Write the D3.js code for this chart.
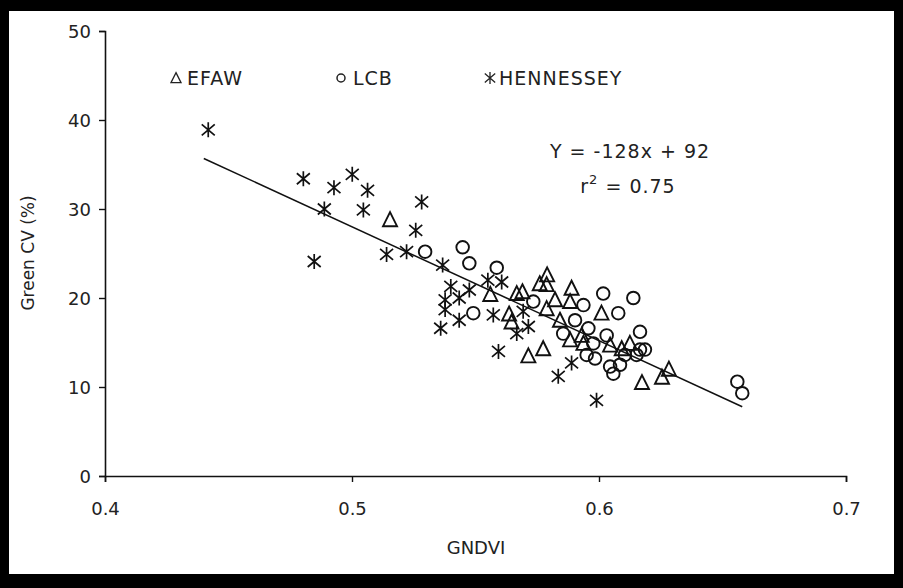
<!DOCTYPE html>
<html>
<head>
<meta charset="utf-8">
<script src="https://cdn.jsdelivr.net/npm/d3@7"></script>
<style>
  html, body { margin: 0; padding: 0; background: #000; }
  svg { display: block; }
  text { font-family: "DejaVu Sans", Verdana, sans-serif; fill: #222; }
</style>
</head>
<body>
<svg id="chart" width="903" height="588"></svg>
<script>
// Green CV (%) against GNDVI for three wheat varieties
const efawGndvi = [0.5154, 0.5667, 0.569, 0.556, 0.579, 0.576, 0.5788, 0.5889, 0.5883, 0.5822,
  0.5788, 0.601, 0.5636, 0.5646, 0.5842, 0.5883, 0.593, 0.5937, 0.6045, 0.6092,
  0.6125, 0.5774, 0.5714, 0.6174, 0.6255, 0.6283];
const efawCv = [28.8, 20.5, 20.7, 20.4, 22.6, 21.6, 21.5, 21.1, 19.6, 19.8,
  18.8, 18.3, 18.2, 17.3, 17.5, 15.3, 15.8, 14.9, 14.7, 14.3,
  14.9, 14.3, 13.5, 10.5, 11.1, 12.0];

const lcbGndvi = [0.5296, 0.5448, 0.5475, 0.5586, 0.5491, 0.5734, 0.5937, 0.6017, 0.6139, 0.6078,
  0.5903, 0.5957, 0.5855, 0.6031, 0.6166, 0.5977, 0.6166, 0.6186, 0.6152, 0.6105,
  0.5984, 0.595, 0.6045, 0.6085, 0.6058, 0.656, 0.658];
const lcbCv = [25.2, 25.7, 23.9, 23.4, 18.3, 19.6, 19.2, 20.5, 20.0, 18.3,
  17.5, 16.6, 16.0, 15.8, 16.2, 14.9, 14.2, 14.2, 13.6, 13.6,
  13.2, 13.6, 12.3, 12.5, 11.5, 10.6, 9.3];

const hennGndvi = [0.4418, 0.4803, 0.4927, 0.5001, 0.5063, 0.4888, 0.5046, 0.5282, 0.5258, 0.514,
  0.5221, 0.4847, 0.5367, 0.540, 0.5475, 0.555, 0.5606, 0.5434, 0.5377, 0.5377,
  0.5572, 0.5434, 0.5359, 0.5667, 0.5714, 0.5693, 0.5593, 0.5889, 0.5835, 0.599];
const hennCv = [38.9, 33.4, 32.4, 33.9, 32.1, 30.0, 29.9, 30.8, 27.6, 24.9,
  25.2, 24.1, 23.7, 21.3, 20.9, 22.0, 21.8, 20.0, 19.8, 18.7,
  18.1, 17.5, 16.6, 16.0, 16.8, 18.5, 14.0, 12.7, 11.2, 8.5];

// Fitted line Y = -128x + 92 over the observed GNDVI range
const fitSlope = -128, fitIntercept = 92;
const fitRange = [0.44, 0.658];

const xTicks = [0.4, 0.5, 0.6, 0.7];
const yTicks = [0, 10, 20, 30, 40, 50];
const legendNames = ["EFAW", "LCB", "HENNESSEY"];

const svg = d3.select("#chart");

// white page inside the black frame
svg.append("rect").attr("x", 9).attr("y", 11).attr("width", 885).attr("height", 563).attr("fill", "#fff");

const x = d3.scaleLinear().domain([0.4, 0.7]).range([105, 846]);
const y = d3.scaleLinear().domain([0, 50]).range([476, 31]);

// axes
const xAxis = svg.append("g").attr("transform", `translate(0,${y(0)})`)
  .call(d3.axisBottom(x).tickValues(xTicks).tickFormat(d3.format(".1f")).tickSize(6).tickPadding(20));
const yAxis = svg.append("g").attr("transform", `translate(${x(0.4)},0)`)
  .call(d3.axisLeft(y).tickValues(yTicks).tickFormat(d3.format("d")).tickSize(6).tickPadding(8));
[xAxis, yAxis].forEach(g => {
  g.select(".domain").attr("stroke", "#111").attr("stroke-width", 1.6);
  g.selectAll(".tick line").attr("stroke", "#111").attr("stroke-width", 1.4);
  g.selectAll(".tick text").attr("fill", "#222").style("font-size", "18px")
    .style("font-family", "'DejaVu Sans', Verdana, sans-serif");
});
yAxis.selectAll(".tick text").attr("dy", "0.36em");

// axis titles
svg.append("text").attr("x", 476).attr("y", 554).attr("text-anchor", "middle")
  .style("font-size", "18px").text("GNDVI");
svg.append("text").attr("transform", `translate(34,253) rotate(-90)`).attr("text-anchor", "middle")
  .style("font-size", "17px").text("Green CV (%)");

// marker shapes
function triPath(cx, cy, s) {
  const p = d3.path();
  p.moveTo(cx, cy - 7.5 * s); p.lineTo(cx + 7 * s, cy + 6.5 * s); p.lineTo(cx - 7 * s, cy + 6.5 * s); p.closePath();
  return p.toString();
}
function starPath(cx, cy, s) {
  const p = d3.path();
  p.moveTo(cx, cy - 7.5 * s); p.lineTo(cx, cy + 7.5 * s);
  p.moveTo(cx - 6.5 * s, cy - 5.5 * s); p.lineTo(cx + 6.5 * s, cy + 5.5 * s);
  p.moveTo(cx - 6.5 * s, cy + 5.5 * s); p.lineTo(cx + 6.5 * s, cy - 5.5 * s);
  return p.toString();
}

const plot = svg.append("g");

// regression line
plot.append("line")
  .attr("x1", x(fitRange[0])).attr("y1", y(fitSlope * fitRange[0] + fitIntercept))
  .attr("x2", x(fitRange[1])).attr("y2", y(fitSlope * fitRange[1] + fitIntercept))
  .attr("stroke", "#111").attr("stroke-width", 1.5);

// HENNESSEY
plot.selectAll(".henn").data(d3.zip(hennGndvi, hennCv)).join("path").attr("class", "henn")
  .attr("d", d => starPath(x(d[0]), y(d[1]), 1))
  .attr("fill", "none").attr("stroke", "#111").attr("stroke-width", 1.7);

// LCB
plot.selectAll(".lcb").data(d3.zip(lcbGndvi, lcbCv)).join("circle").attr("class", "lcb")
  .attr("cx", d => x(d[0])).attr("cy", d => y(d[1])).attr("r", 6.3)
  .attr("fill", "none").attr("stroke", "#111").attr("stroke-width", 1.9);

// EFAW
plot.selectAll(".efaw").data(d3.zip(efawGndvi, efawCv)).join("path").attr("class", "efaw")
  .attr("d", d => triPath(x(d[0]), y(d[1]), 1))
  .attr("fill", "none").attr("stroke", "#111").attr("stroke-width", 1.9).attr("stroke-linejoin", "miter");

// legend row
const legend = svg.append("g");
const legendItems = [
  { name: legendNames[0], sx: 176, tx: 187, kind: "tri" },
  { name: legendNames[1], sx: 341, tx: 353, kind: "circ" },
  { name: legendNames[2], sx: 490, tx: 499, kind: "star" }
];
legendItems.forEach(it => {
  if (it.kind === "tri") legend.append("path").attr("d", triPath(it.sx, 78, 0.72))
    .attr("fill", "none").attr("stroke", "#222").attr("stroke-width", 1.3);
  if (it.kind === "circ") legend.append("circle").attr("cx", it.sx).attr("cy", 78).attr("r", 4)
    .attr("fill", "none").attr("stroke", "#222").attr("stroke-width", 1.5);
  if (it.kind === "star") legend.append("path").attr("d", starPath(it.sx, 78, 0.8))
    .attr("fill", "none").attr("stroke", "#222").attr("stroke-width", 1.3);
  legend.append("text").attr("x", it.tx).attr("y", 85).style("font-size", "19px")
    .style("letter-spacing", "1px").text(it.name);
});

// regression equation
svg.append("text").attr("x", 630).attr("y", 158).attr("text-anchor", "middle")
  .style("font-size", "19px").style("letter-spacing", "1px").text("Y = -128x + 92");
const r2 = svg.append("text").attr("x", 628).attr("y", 193).attr("text-anchor", "middle")
  .style("font-size", "19px").style("letter-spacing", "1px");
r2.append("tspan").text("r");
r2.append("tspan").attr("dy", -9).style("font-size", "13px").text("2");
r2.append("tspan").attr("dy", 9).text(" = 0.75");
</script>
</body>
</html>
